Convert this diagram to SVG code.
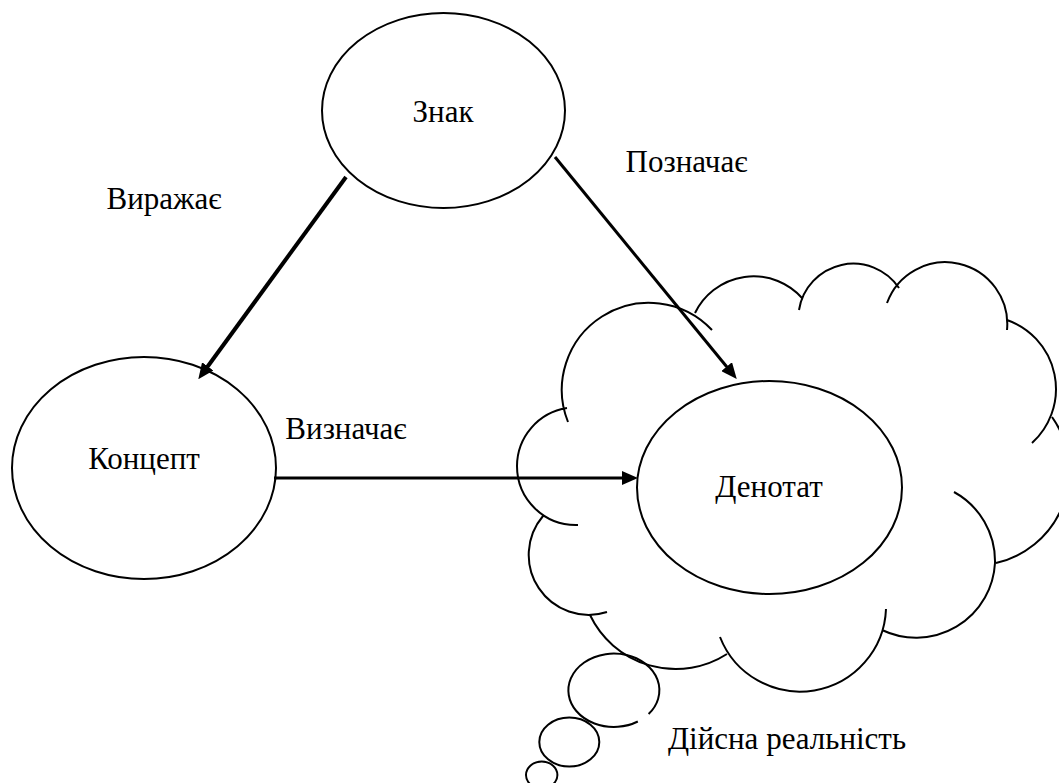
<svg xmlns="http://www.w3.org/2000/svg" width="1059" height="783" viewBox="0 0 1059 783">
  <style>
    .shape { fill: none; stroke: #000; stroke-width: 2; }
    .lbl { font-family: 'Liberation Serif', 'Times New Roman', Times, 'DejaVu Serif', serif; font-size: 31px; fill: #000; text-anchor: middle; }
    .conn { stroke: #000; fill: none; }
  </style>
  <defs>
    <marker id="arrow" viewBox="0 0 16 14" refX="6" refY="7" markerWidth="16" markerHeight="14" markerUnits="userSpaceOnUse" orient="auto">
      <path d="M0,0 L16,7 L0,14 z" fill="#000"/>
    </marker>
  </defs>
  <rect width="1059" height="783" fill="#fff"/>

  <g id="node-reality">
    <path class="shape" d="M568,422 A87,87 0 0,1 712,330
      M695,313 A65,65 0 0,1 802,298
      M799,310 A55,55 0 0,1 899,288
      M887,303 A62,62 0 0,1 1007,330
      M1007,320 A73,73 0 0,1 1032,443
      M1052,417 A94,94 0 0,1 996,563
      M954,492 A79,79 0 0,1 995,563
      M995,563 A79,79 0 0,1 882,630
      M886,609 A86,86 0 0,1 720,637
      M727,654 A95,95 0 0,1 590,615
      M607,612 A60,60 0 0,1 543,516
      M578,525 A59,59 0 0,1 517,466
      M517,466 A59,59 0 0,1 567,408"/>
    <path class="shape" d="M637.8,721.5 A45.5,36.7 0 1,1 648.6,714"/>
    <ellipse class="shape" cx="569.3" cy="742" rx="30" ry="24.5"/>
    <ellipse class="shape" cx="541.7" cy="775" rx="15.7" ry="13.5"/>
    <text class="lbl" x="787" y="749" font-family="Liberation Serif, serif">Дійсна реальність</text>
  </g>

  <g id="node-znak">
    <ellipse class="shape" cx="443.5" cy="110.5" rx="121.5" ry="97.5"/>
    <text class="lbl" x="443" y="122" font-family="Liberation Serif, serif">Знак</text>
  </g>

  <g id="node-koncept">
    <ellipse class="shape" cx="144" cy="468" rx="132" ry="111"/>
    <text class="lbl" x="144" y="469" font-family="Liberation Serif, serif">Концепт</text>
  </g>

  <g id="node-denotat">
    <ellipse class="shape" cx="769.5" cy="487.5" rx="132.5" ry="106.5"/>
    <text class="lbl" x="769" y="497" font-family="Liberation Serif, serif">Денотат</text>
  </g>

  <g id="connectors">
    <line class="conn" x1="346" y1="177" x2="204.2" y2="371.2" stroke-width="4" marker-end="url(#arrow)"/>
    <line class="conn" x1="555" y1="157" x2="730.4" y2="371.3" stroke-width="3" marker-end="url(#arrow)"/>
    <line class="conn" x1="274" y1="478" x2="628" y2="478" stroke-width="3" marker-end="url(#arrow)"/>
    <text class="lbl" x="164" y="209" font-family="Liberation Serif, serif">Виражає</text>
    <text class="lbl" x="686.5" y="172" font-family="Liberation Serif, serif">Позначає</text>
    <text class="lbl" x="346" y="439" font-family="Liberation Serif, serif">Визначає</text>
  </g>
</svg>
